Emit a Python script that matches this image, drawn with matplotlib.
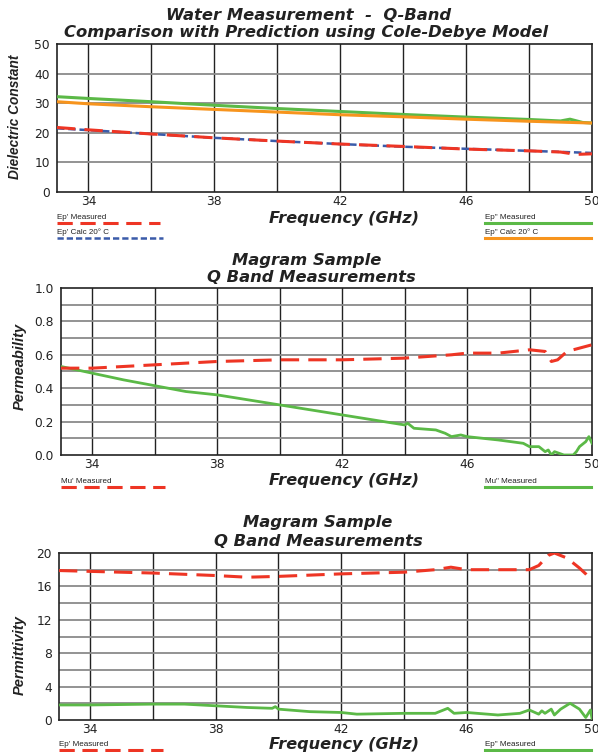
import matplotlib

matplotlib.use("Agg")
import matplotlib.pyplot as plt
from matplotlib.lines import Line2D

plt.rcParams["font.family"] = ["DejaVu Sans"]

W, H = 598, 752

RED = "#ee3524"
GREEN = "#5bb947"
ORANGE = "#f7941d"
BLUE = "#3a5ba9"

# ── panel 1: water, dielectric constant ─────────────────────────────────
f_green1 = [33, 34, 36, 38, 40, 42, 44, 46, 48, 49, 49.3, 49.7, 50]
ep2_meas = [32.2, 31.6, 30.5, 29.3, 28.2, 27.2, 26.2, 25.3, 24.5, 24.0, 24.6, 23.5, 23.3]
f_calc = [33, 34, 36, 38, 40, 42, 44, 46, 48, 50]
ep2_calc = [30.5, 29.8, 28.8, 27.9, 27.0, 26.1, 25.4, 24.6, 23.9, 23.3]
f_red1 = [33, 34, 36, 38, 40, 42, 44, 46, 48, 49, 49.5, 50]
ep1_meas = [21.8, 21.0, 19.6, 18.3, 17.2, 16.2, 15.4, 14.5, 13.9, 13.5, 12.7, 12.9]
ep1_calc = [21.5, 20.9, 19.6, 18.3, 17.2, 16.2, 15.3, 14.6, 13.9, 13.2]

# ── panel 2: magram permeability ────────────────────────────────────────
f_mu1 = [33, 34, 35, 36, 37, 38, 39, 40, 42, 44, 45.5, 46, 47, 48, 48.5,
         48.7, 48.9, 49.2, 49.6, 50]
mu1 = [0.52, 0.52, 0.53, 0.54, 0.55, 0.56, 0.565, 0.57, 0.57, 0.58, 0.60,
       0.61, 0.61, 0.63, 0.62, 0.56, 0.57, 0.62, 0.64, 0.66]
f_mu2 = [33, 34, 35, 36, 37, 38, 39, 40, 41, 42, 43, 44, 44.1, 44.3, 45,
         45.3, 45.5, 45.8, 46, 47, 47.8, 48, 48.3, 48.5, 48.6, 48.7, 48.8,
         49.1, 49.4, 49.5, 49.6, 49.8, 49.9, 50]
mu2 = [0.53, 0.49, 0.45, 0.415, 0.38, 0.36, 0.33, 0.30, 0.27, 0.24, 0.21,
       0.18, 0.19, 0.16, 0.15, 0.13, 0.11, 0.12, 0.11, 0.09, 0.07, 0.05,
       0.05, 0.02, 0.03, 0.0, 0.02, 0.0, 0.0, 0.02, 0.05, 0.08, 0.11, 0.07]

# ── panel 3: magram permittivity ────────────────────────────────────────
f_ep1 = [33, 34, 36, 38, 39, 40, 42, 44, 45, 45.5, 46, 47, 48, 48.3, 48.6,
         48.8, 49.2, 49.6, 49.8, 50]
mag_ep1 = [17.9, 17.8, 17.6, 17.3, 17.1, 17.2, 17.5, 17.7, 18.0, 18.3, 18.0,
           18.0, 18.0, 18.5, 19.7, 20.0, 19.4, 18.2, 17.5, 16.6]
f_ep2 = [33, 34, 36, 37, 38, 39, 39.8, 39.9, 40, 41, 42, 42.5, 44, 45, 45.4,
         45.6, 46, 47, 47.7, 48, 48.3, 48.4, 48.5, 48.7, 48.8, 49, 49.3,
         49.6, 49.8, 49.95, 50]
mag_ep2 = [1.8, 1.8, 1.9, 1.9, 1.7, 1.5, 1.4, 1.6, 1.3, 1.0, 0.9, 0.7, 0.8,
           0.8, 1.4, 0.8, 0.9, 0.6, 0.8, 1.2, 0.7, 1.1, 0.8, 1.3, 0.6, 1.3,
           2.0, 1.3, 0.3, 1.2, 0.2]

x_ticks = [34, 38, 42, 46, 50]


def frac(left, top, right, bottom):
    return [left / W, 1 - bottom / H, (right - left) / W, (bottom - top) / H]


def style_axes(ax, ymax, ylabels, grid_step):
    ax.set_xlim(33, 50)
    ax.set_ylim(0, ymax)
    ax.set_xticks(x_ticks)
    ax.set_yticks(ylabels)
    ax.set_yticklabels([f"{v:g}" if ymax > 1 else f"{v:.1f}" for v in ylabels])
    for x in range(34, 50, 2):
        ax.axvline(x, color="#222222", lw=1.0, zorder=1)
    y = grid_step
    while y < ymax - 1e-9:
        ax.axhline(y, color="#8a8a8a", lw=1.3, zorder=1)
        y += grid_step
    ax.tick_params(length=0, labelsize=8.8, pad=2, labelcolor="#222222")
    ax.tick_params(axis="y", pad=5)
    for s in ax.spines.values():
        s.set_linewidth(1.2)
        s.set_color("#222222")


def legend_item(x0, x1, y, text, color, ls, lw=2.2):
    fig.text(x0 / W, 1 - (y - 2) / H, text, fontsize=5.8, ha="left", va="bottom",
             family="Liberation Sans", color="#222222")
    fig.add_artist(Line2D([x0 / W, x1 / W], [1 - y / H, 1 - y / H],
                          color=color, ls=ls, lw=lw))


fig = plt.figure(figsize=(W / 100, H / 100), dpi=100)

title_kw = dict(fontsize=11.8, fontweight="bold", style="italic", ha="center",
                va="center", color="#222222")
xlab_kw = dict(fontsize=11.6, fontweight="bold", style="italic", ha="center",
               va="center", color="#222222")
ylab_kw = dict(fontweight="bold", style="italic", family="Liberation Sans",
               rotation=90, va="center", ha="center", color="#222222")

# panel 1
ax1 = fig.add_axes(frac(57, 44, 592, 192))
style_axes(ax1, 50, [0, 10, 20, 30, 40, 50], 10)
ax1.plot(f_green1, ep2_meas, color=GREEN, lw=2.2, zorder=3)
ax1.plot(f_calc, ep2_calc, color=ORANGE, lw=2.2, zorder=3)
ax1.plot(f_calc, ep1_calc, color=BLUE, lw=1.8, ls=(0, (3, 1.5)), zorder=3)
ax1.plot(f_red1, ep1_meas, color=RED, lw=2.2, ls=(0, (6, 3)), zorder=4)
fig.text(309 / W, 1 - 15 / H, "Water Measurement  -  Q-Band", **title_kw)
fig.text(306 / W, 1 - 33 / H, "Comparison with Prediction using Cole-Debye Model",
         **title_kw)
fig.text(15 / W, 1 - 117 / H, "Dielectric Constant", fontsize=9.8, **ylab_kw)
fig.text(344 / W, 1 - 218 / H, "Frequency (GHz)", **xlab_kw)
legend_item(57, 160, 223, "Ep' Measured", RED, (0, (5, 2.5)))
legend_item(57, 163, 238, "Ep' Calc 20° C", BLUE, (0, (2.5, 1.2)), lw=1.8)
legend_item(485, 591, 223, 'Ep" Measured', GREEN, "-")
legend_item(485, 591, 238, 'Ep" Calc 20° C', ORANGE, "-")

# panel 2
ax2 = fig.add_axes(frac(61, 288, 592, 455))
style_axes(ax2, 1.0, [0.0, 0.2, 0.4, 0.6, 0.8, 1.0], 0.1)
ax2.plot(f_mu2, mu2, color=GREEN, lw=2.0, zorder=3)
ax2.plot(f_mu1, mu1, color=RED, lw=2.2, ls=(0, (6, 3)), zorder=4)
fig.text(307 / W, 1 - 260 / H, "Magram Sample", **title_kw)
fig.text(311 / W, 1 - 277 / H, "Q Band Measurements", **title_kw)
fig.text(20 / W, 1 - 366 / H, "Permeability", fontsize=10.5, **ylab_kw)
fig.text(344 / W, 1 - 481 / H, "Frequency (GHz)", **xlab_kw)
legend_item(61, 165, 487, "Mu' Measured", RED, (0, (5, 2.5)))
legend_item(485, 591, 487, 'Mu" Measured', GREEN, "-")

# panel 3
ax3 = fig.add_axes(frac(59, 553, 592, 720))
style_axes(ax3, 20, [0, 4, 8, 12, 16, 20], 2)
ax3.plot(f_ep2, mag_ep2, color=GREEN, lw=2.0, zorder=3)
ax3.plot(f_ep1, mag_ep1, color=RED, lw=2.2, ls=(0, (6, 3)), zorder=4)
fig.text(318 / W, 1 - 522 / H, "Magram Sample", **title_kw)
fig.text(318 / W, 1 - 541 / H, "Q Band Measurements", **title_kw)
fig.text(20 / W, 1 - 655 / H, "Permittivity", fontsize=10.5, **ylab_kw)
fig.text(344 / W, 1 - 744 / H, "Frequency (GHz)", **xlab_kw)
legend_item(59, 163, 750, "Ep' Measured", RED, (0, (5, 2.5)))
legend_item(485, 591, 750, 'Ep" Measured', GREEN, "-")

fig.savefig("out.png", dpi=100)
